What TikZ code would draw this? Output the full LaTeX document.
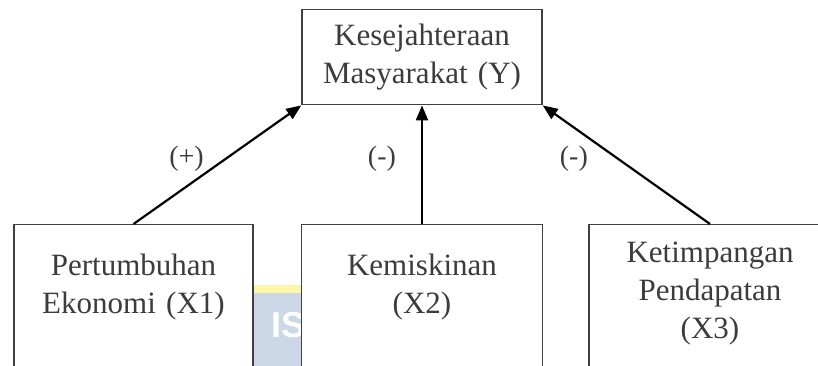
\documentclass[tikz,border=0pt]{standalone}
\usepackage{fontspec}
\setmainfont{Liberation Serif}
\setsansfont{Liberation Sans}
\usepackage{tikz}
\usetikzlibrary{arrows.meta, positioning}
\usepackage{xcolor}
\definecolor{teksabu}{HTML}{3C3C3C}
\definecolor{wmbiru}{HTML}{CCD7E8}
\definecolor{wmkuning}{HTML}{FBF6A8}

\begin{document}
\begin{tikzpicture}[x=1pt, y=-1pt, >={Triangle[length=15pt, width=12pt]}, pos=.55,
    kotak/.style={draw=black!75, line width=1.4pt, fill=white, anchor=north, inner xsep=0pt, inner ysep=0pt,
      minimum width=#1, text width=#1, align=center, text=teksabu, font=\fontsize{31}{38}\selectfont},
    panah/.style={->, line width=2.2pt},
    tanda/.style={text=teksabu, inner sep=0pt, font=\fontsize{28}{30}\selectfont}]
  \useasboundingbox (0,0) rectangle (818,366);
  % watermark seen between the boxes
  \fill[wmkuning] (245,285) rectangle (310,293);
  \fill[wmbiru] (245,293) rectangle (310,370);
  \node[anchor=base west, inner sep=0pt, text=white, font=\sffamily\bfseries\fontsize{36}{36}\selectfont] (wm) at (271,337) {IS};

  \node[kotak=240pt, text height=36pt, text depth=59pt] (y) at (422,9) {Kesejahteraan\\Masyarakat (Y)};
  \node[kotak=239pt, text height=51pt, text depth=120pt] (x1) at (133.5,224) {Pertumbuhan\\Ekonomi (X1)};
  \node[kotak=241pt, text height=51pt, text depth=120pt] (x2) at (422,224) {Kemiskinan\\(X2)};
  \node[kotak=242pt, text height=38pt, text depth=120pt] (x3) at (710,224) {Ketimpangan\\Pendapatan\\(X3)};

  \draw[panah] (x1.north) -- node[tanda, left=21pt] {(+)} (y.south west);
  \draw[panah] (x2.north) -- node[tanda, left=25pt] {(-)} (y.south);
  \draw[panah] (x3.north) -- node[tanda, left=29pt] {(-)} (y.south east);
\end{tikzpicture}
\end{document}
